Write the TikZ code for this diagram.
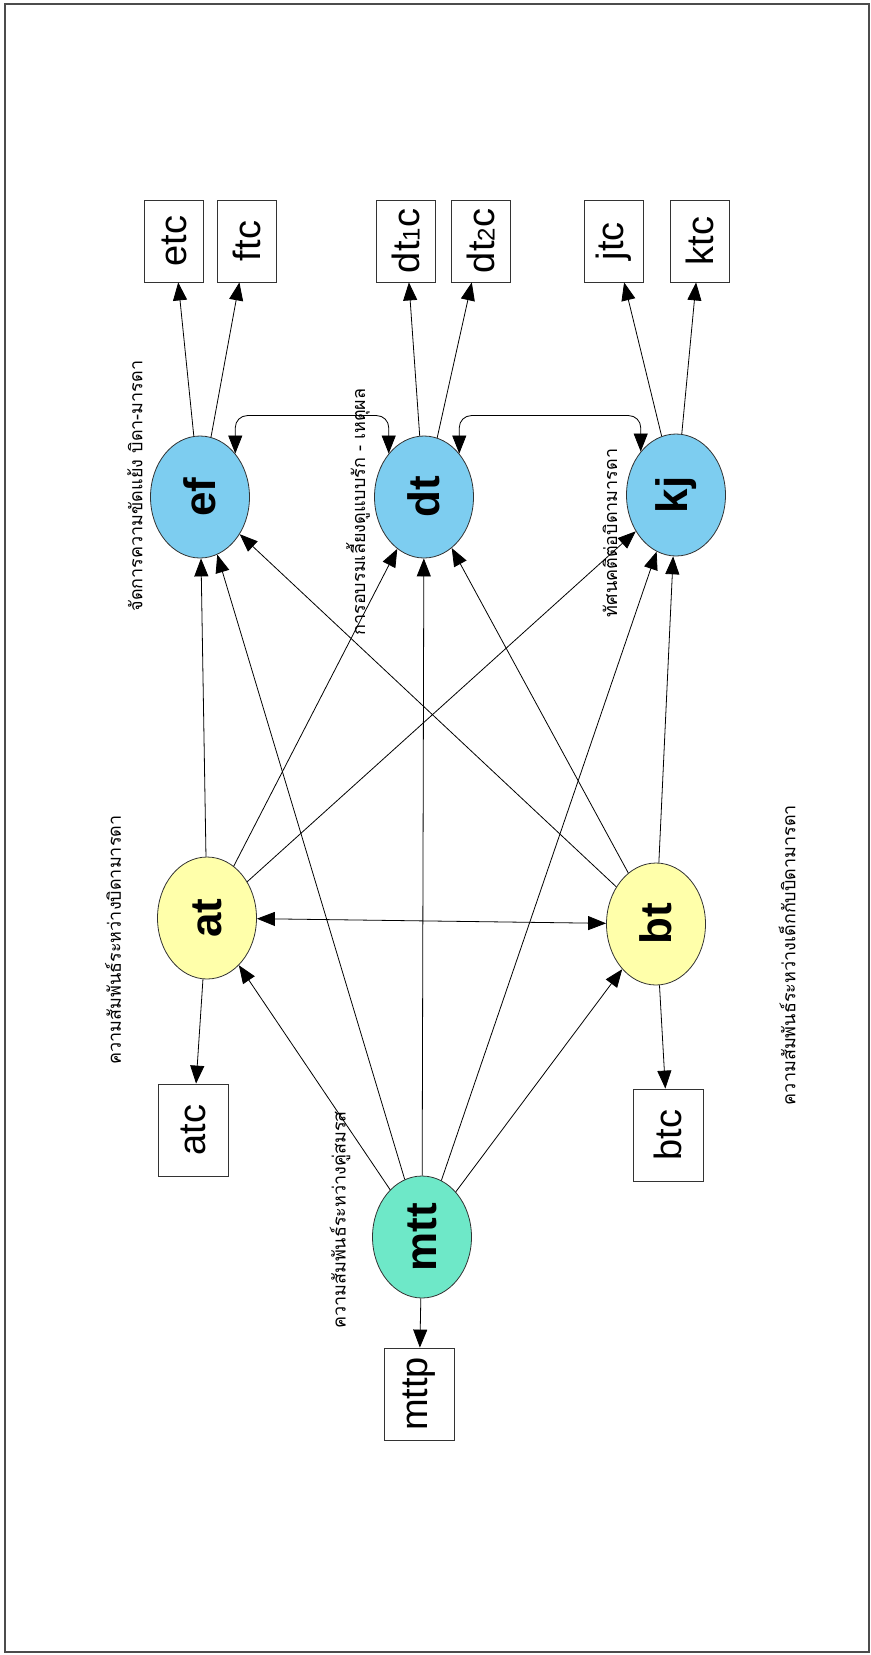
\documentclass[tikz,border=0pt]{standalone}
\usepackage{fontspec}
\setmainfont{Liberation Sans}
\newfontfamily\thaifont[Script=Thai]{Loma}
\usetikzlibrary{shapes.geometric,arrows.meta}

\definecolor{cblue}{RGB}{125,205,240}
\definecolor{cyellow}{RGB}{255,255,170}
\definecolor{cgreen}{RGB}{110,232,200}

\begin{document}
\begin{tikzpicture}[x=0.5pt, y=-0.5pt, every node/.append style={text=black, rotate=90},
	var/.style={ellipse, draw=black!80, minimum width=61pt, minimum height=49.5pt, inner sep=0pt, font=\fontsize{22}{22}\selectfont\bfseries},
	obs/.style={rectangle, draw=black!80, fill=white, minimum width=46pt, minimum height=35pt, inner sep=0pt, font=\fontsize{19}{19}\selectfont},
	obst/.style={obs, minimum width=41pt, minimum height=29.5pt},
	lab/.style={inner sep=0pt, font=\thaifont\fontsize{9}{10}\selectfont},
	arr/.style={-{Triangle[length=9pt,width=7pt]}},
	arrr/.style={{Triangle[length=9pt,width=7pt]}-{Triangle[length=9pt,width=7pt]}}]
\useasboundingbox (0,0) rectangle (871,1655);
	\draw[black!70, line width=1.2pt] (5,4) rectangle (869,1652);

	% latent variables
	\node[var, fill=cblue] (ef) at (200,497) {ef};
	\node[var, fill=cblue] (dt) at (424,497) {dt};
	\node[var, fill=cblue] (kj) at (676,495) {kj};
	\node[var, fill=cyellow] (at) at (207,918) {at};
	\node[var, fill=cyellow] (bt) at (656,924) {bt};
	\node[var, fill=cgreen] (mtt) at (422,1237) {mtt};

	% indicators
	\foreach \n/\x/\y in {etc/174/241, ftc/247/241, jtc/614/241, ktc/700/241}
	{
		\node[obst] (\n) at (\x,\y) {\n};
	}
	\node[obst] (dt1c) at (406,241) {dt{\fontsize{12}{12}\selectfont 1}c};
	\node[obst] (dt2c) at (481,241) {dt{\fontsize{12}{12}\selectfont 2}c};
	\foreach \n/\x/\y in {atc/193/1130, btc/668/1135, mttp/419/1394}
	{
		\node[obs] (\n) at (\x,\y) {\n};
	}

	% labels
	\node[lab] (efl) at (135,486) {จัดการความขัดแย้ง บิดา-มารดา};
	\node[lab] (dtl) at (358,512) {การอบรมเลี้ยงดูแบบรัก - เหตุผล};
	\node[lab] (kjl) at (610,533) {ทัศนคติต่อบิดามารดา};
	\node[lab] (atl) at (113,940) {ความสัมพันธ์ระหว่างบิดามารดา};
	\node[lab] (btl) at (787,955) {ความสัมพันธ์ระหว่างเด็กกับบิดามารดา};
	\node[lab] (mttl) at (340,1220) {ความสัมพันธ์ระหว่างคู่สมรส};

	\foreach \a/\b in {ef/etc, ef/ftc, dt/dt1c, dt/dt2c, kj/jtc, kj/ktc, at/atc, bt/btc, mtt/mttp,
		mtt/at, mtt/bt, mtt/ef, mtt/dt, mtt/kj, at/ef, at/dt, at/kj, bt/ef, bt/dt, bt/kj}
	{
		\draw[arr] (\a) -- (\b);
	}
	\draw[arrr] (at) -- (bt);
	\draw[arrr, rounded corners=6pt] (ef.south east) -- ++(0,-38) -| (dt.north east);
	\draw[arrr, rounded corners=6pt] (dt.south east) -- ++(0,-38) -| (kj.north east);

\end{tikzpicture}
\end{document}
